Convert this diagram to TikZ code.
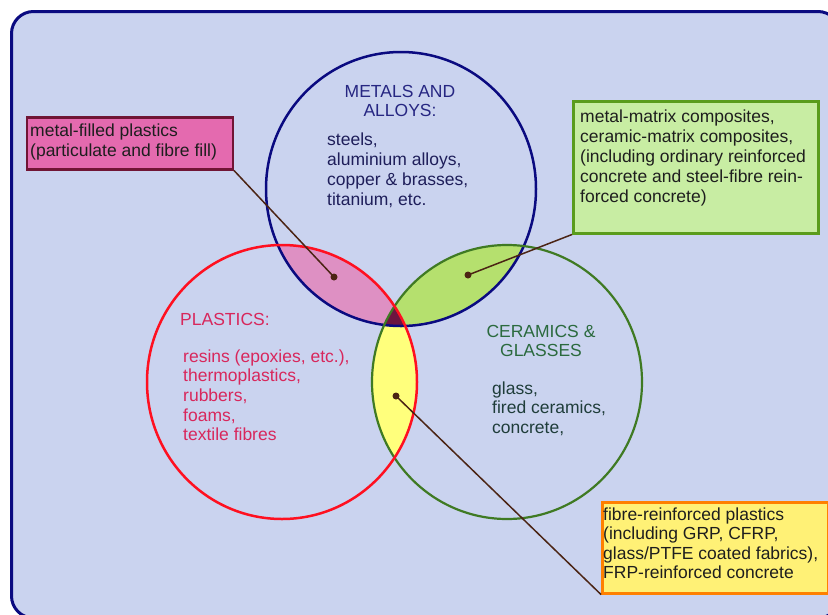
\documentclass[tikz,border=0pt]{standalone}
\usepackage{fontspec}
\setmainfont{Liberation Sans}
\definecolor{bgblue}{HTML}{CAD3EF}
\definecolor{navyc}{HTML}{0A0A80}
\definecolor{redc}{HTML}{FF1020}
\definecolor{greenc}{HTML}{3F7A23}
\definecolor{pinkreg}{HTML}{DE90C3}
\definecolor{greenreg}{HTML}{B5E06E}
\definecolor{yellowreg}{HTML}{FFFF7C}
\definecolor{triplereg}{HTML}{6C1440}
\definecolor{pinkbox}{HTML}{E46AAF}
\definecolor{pinkborder}{HTML}{701535}
\definecolor{greenbox}{HTML}{C8EDA3}
\definecolor{greenborder}{HTML}{5A9C1C}
\definecolor{yellowbox}{HTML}{FFF176}
\definecolor{yellowborder}{HTML}{FF8000}
\definecolor{conn}{HTML}{4B2414}
\definecolor{metalhead}{HTML}{262682}
\definecolor{metaltext}{HTML}{1E1E5A}
\definecolor{plastictext}{HTML}{D8275C}
\definecolor{ceramhead}{HTML}{2B6A3E}
\definecolor{ceramtext}{HTML}{1F3D3A}
\definecolor{boxtext}{HTML}{1E1E1E}
\newcommand{\topstrut}{\rule{0pt}{14pt}}
\begin{document}
\begin{tikzpicture}[x=1pt,y=-1pt,
  txt/.style={inner sep=0pt, anchor=north west, align=left, font=\fontsize{17.5}{20}\selectfont},
  ctxt/.style={inner sep=0pt, anchor=north, align=center, font=\fontsize{17.5}{19.5}\selectfont},
  calloutbox/.style={draw, line width=2.5pt, inner sep=0pt, anchor=north west},
  dotnode/.style={circle, fill=conn, inner sep=0pt, minimum size=7pt},
  connector/.style={draw=conn, line width=1.5pt}
]
\useasboundingbox (0,0) rectangle (828,614);
\clip (0,0) rectangle (828,614);
\fill[white] (0,0) rectangle (828,614);
\draw[navyc, line width=3pt, fill=bgblue, rounded corners=22pt] (11.5,11.5) rectangle (840,618);

% intersection fills
\begin{scope}
  \clip (401,189) ellipse [x radius=135pt, y radius=137pt];
  \fill[pinkreg] (282,382) ellipse [x radius=135pt, y radius=137pt];
\end{scope}
\begin{scope}
  \clip (401,189) ellipse [x radius=135pt, y radius=137pt];
  \fill[greenreg] (507,382) ellipse [x radius=135pt, y radius=137pt];
\end{scope}
\begin{scope}
  \clip (282,382) ellipse [x radius=135pt, y radius=137pt];
  \fill[yellowreg] (507,382) ellipse [x radius=135pt, y radius=137pt];
\end{scope}
\begin{scope}
  \clip (401,189) ellipse [x radius=135pt, y radius=137pt];
  \clip (282,382) ellipse [x radius=135pt, y radius=137pt];
  \fill[triplereg] (507,382) ellipse [x radius=135pt, y radius=137pt];
\end{scope}

% circle outlines
\draw[navyc, line width=2.5pt] (401,189) ellipse [x radius=135pt, y radius=137pt];
\draw[greenc, line width=2.2pt] (507,382) ellipse [x radius=135pt, y radius=137pt];
\draw[redc, line width=2.5pt] (282,382) ellipse [x radius=135pt, y radius=137pt];

% circle labels
\node[ctxt, text=metalhead] (metalshead) at (400,83) {\topstrut METALS AND\\ALLOYS:};
\node[txt, text=metaltext] (metalslist) at (327,131) {\topstrut steels,\\aluminium alloys,\\copper \& brasses,\\titanium, etc.};
\node[txt, text=plastictext] (plastichead) at (180,311) {\topstrut PLASTICS:};
\node[txt, text=plastictext, font=\fontsize{17.5}{19.6}\selectfont] (plasticlist) at (183,348) {\topstrut resins (epoxies, etc.),\\thermoplastics,\\rubbers,\\foams,\\textile fibres};
\node[ctxt, text=ceramhead, font=\fontsize{17.5}{19}\selectfont] (ceramhead) at (541,323) {\topstrut CERAMICS \&\\GLASSES};
\node[txt, text=ceramtext, font=\fontsize{17.5}{19.6}\selectfont] (ceramlist) at (492,380) {\topstrut glass,\\fired ceramics,\\concrete,};

% callout boxes
\node[calloutbox, draw=pinkborder, fill=pinkbox, minimum width=206pt, minimum height=52pt] (pinkb) at (25.5,116) {};
\node[calloutbox, draw=greenborder, fill=greenbox, minimum width=245pt, minimum height=132pt] (greenb) at (572,100) {};
\node[calloutbox, draw=yellowborder, fill=yellowbox, minimum width=226pt, minimum height=91pt] (yellowb) at (601,501) {};

\node[txt, text=boxtext] (pinkt) at (30,122) {\topstrut metal-filled plastics\\(particulate and fibre fill)};
\node[txt, text=boxtext] (greent) at (580,108) {\topstrut metal-matrix composites,\\ceramic-matrix composites,\\(including ordinary reinforced\\concrete and steel-fibre rein-\\forced concrete)};
\node[txt, text=boxtext, font=\fontsize{17.5}{19.5}\selectfont] (yellowt) at (603,506) {\topstrut fibre-reinforced plastics\\(including GRP, CFRP,\\glass/PTFE coated fabrics),\\FRP-reinforced concrete};

% dots and connectors
\node[dotnode] (pinkdot) at (334,277) {};
\node[dotnode] (greendot) at (468,275) {};
\node[dotnode] (yellowdot) at (396,396) {};
\draw[connector] (pinkb.south east) -- (pinkdot.center);
\draw[connector] (greenb.south west) -- (greendot.center);
\draw[connector] (yellowb.south west) -- (yellowdot.center);
\end{tikzpicture}
\end{document}
